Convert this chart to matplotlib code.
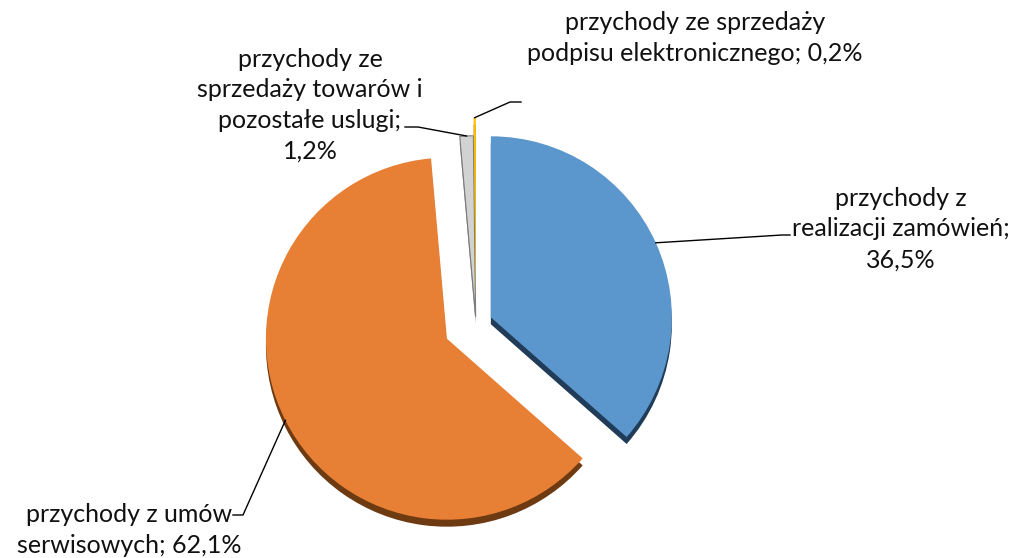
import numpy as np
import matplotlib
matplotlib.use("Agg")
from matplotlib import pyplot as plt

# dane wykresu
labels = ["przychody z\nrealizacji zamówień;\n36,5%",
          "przychody z umów\nserwisowych; 62,1%",
          "przychody ze\nsprzedaży towarów i\npozostałe uslugi;\n1,2%",
          "przychody ze sprzedaży\npodpisu elektronicznego; 0,2%"]
values = [36.5, 62.1, 1.2, 0.2]
colors = ["#5B97CC", "#E77F35", "#D2D2D2", "#FFC000"]
shadow_colors = ["#203C58", "#6E3A12", "#8A8A8A", "#A07800"]
explode = [0.09, 0.18, 0.04, 0.14]

W, H = 1013, 558
plt.rcParams['font.family'] = ['Lato', 'DejaVu Sans']

fig = plt.figure(figsize=(W / 100, H / 100), dpi=100)
ax = fig.add_axes([0, 0, 1, 1])

center = (476, H - 324)
radius = 181
# w matplotlib explode jest w jednostkach danych, więc skalujemy promieniem
expl_px = [e * radius for e in explode]

# cień (efekt 3D) - to samo koło przesunięte w dół
ax.pie(values, colors=shadow_colors, explode=expl_px, startangle=90,
       counterclock=False, radius=radius, center=(center[0], center[1] - 7),
       frame=True, wedgeprops=dict(linewidth=0))
wedges, _ = ax.pie(values, colors=colors, explode=expl_px, startangle=90,
                   counterclock=False, radius=radius, center=center,
                   frame=True, wedgeprops=dict(linewidth=0))
wedges[2].set_edgecolor("#7A7A7A")
wedges[2].set_linewidth(0.8)
ax.set_xlim(0, W)
ax.set_ylim(0, H)
ax.set_aspect('equal')
ax.axis('off')

# pozycje etykiet (ekran, y w dół) i końce linii odniesienia
text_pos = [(901, 229), (129, 530), (310, 105), (695, 38)]
leader_pts = [[(782, 235), (790, 235)],
              [(243, 515), (233, 515)],
              [(418, 127), (405, 127)],
              [(510, 102), (521, 102)]]

for w, lab, (tx, ty), pts in zip(wedges, labels, text_pos, leader_pts):
    mid = np.deg2rad((w.theta1 + w.theta2) / 2)
    cx, cy = w.center
    sx = cx + w.r * np.cos(mid)
    sy = cy + w.r * np.sin(mid)
    xs = [sx] + [p[0] for p in pts]
    ys = [sy] + [H - p[1] for p in pts]
    ax.plot(xs, ys, color="black", lw=1.0, zorder=5)
    ax.text(tx, H - ty, lab, ha='center', va='center', fontsize=18,
            linespacing=1.4, color="#111111", zorder=6)

fig.savefig("out.png", dpi=100)
